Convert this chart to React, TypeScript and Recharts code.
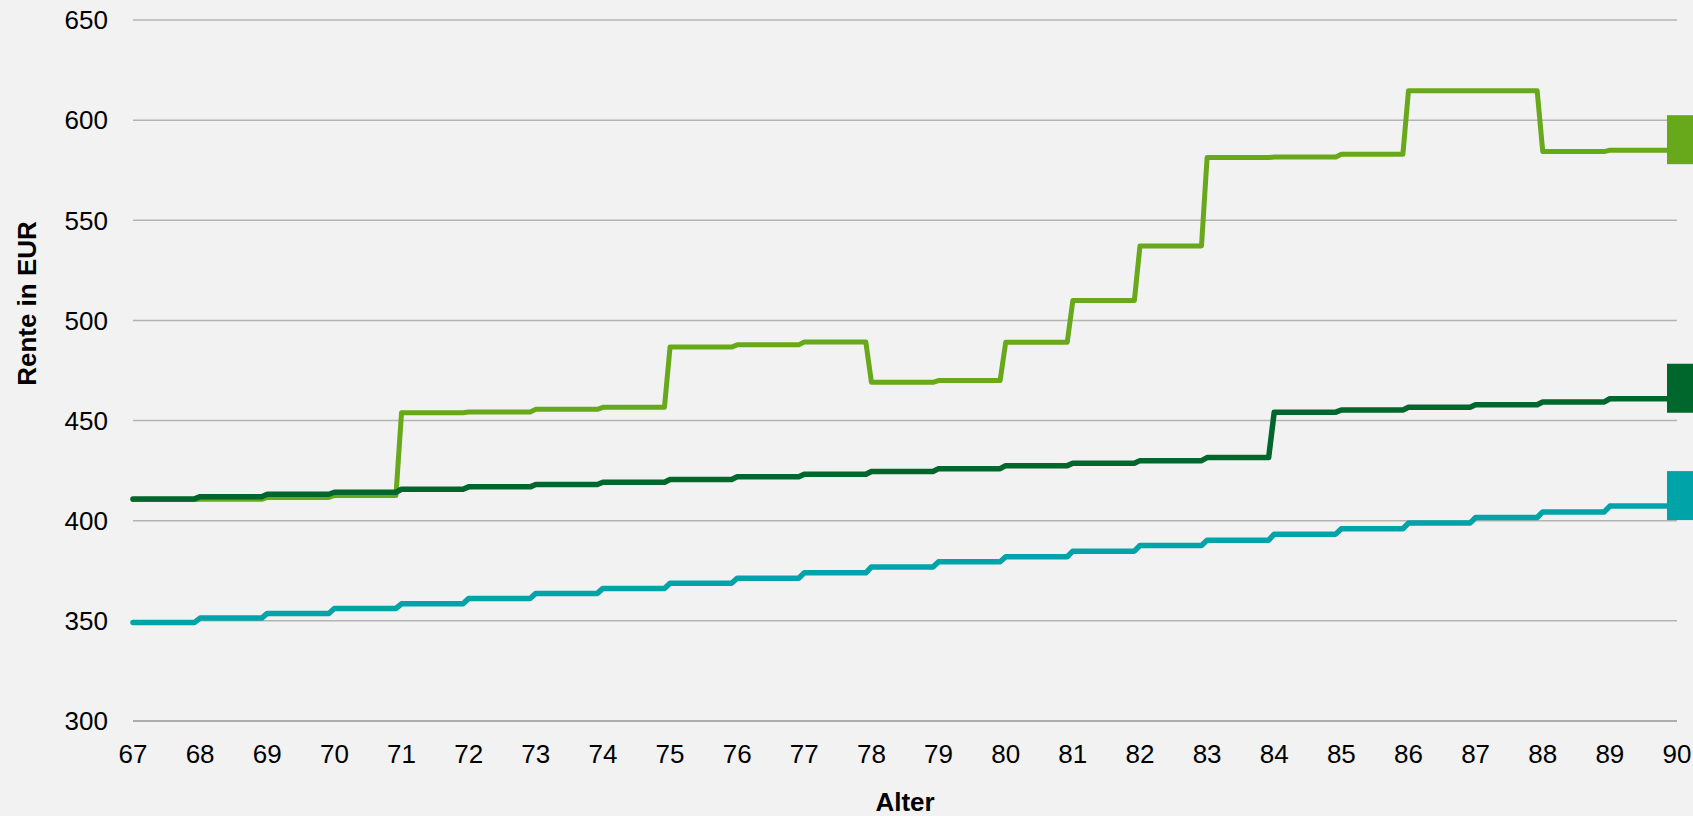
import React from 'react';
import { LineChart, Line, XAxis, YAxis, CartesianGrid } from 'recharts';

// ages on the x axis (pension adjusted once a year, paid monthly)
const AGE_TICKS = [67, 68, 69, 70, 71, 72, 73, 74, 75, 76, 77, 78, 79, 80, 81, 82, 83, 84, 85, 86, 87, 88, 89, 90];
const RENTE_TICKS = [300, 350, 400, 450, 500, 550, 600, 650];

// yearly pension level, one value per age 67..89
const rente_teal = [
  349.2, 351.4, 353.7, 356.2, 358.5, 361.2, 363.7, 366.2, 368.8, 371.3, 374.0, 376.9,
  379.5, 382.0, 384.8, 387.6, 390.3, 393.3, 396.0, 398.8, 401.6, 404.4, 407.3,
];
const rente_dunkel = [
  410.9, 412.0, 413.2, 414.2, 415.7, 416.9, 418.1, 419.2, 420.6, 421.9, 423.2, 424.6,
  426.0, 427.5, 428.7, 430.0, 431.5, 454.2, 455.3, 456.6, 457.9, 459.3, 460.9,
];
const rente_hell = [
  410.6, 410.7, 411.6, 412.6, 453.9, 454.3, 455.6, 456.6, 486.7, 487.8, 489.2, 469.1,
  470.0, 489.1, 509.9, 537.2, 581.3, 581.6, 583.0, 614.7, 614.7, 584.3, 585.0,
];

const COLORS = { hell: '#68a81b', dunkel: '#00672c', teal: '#00a4a8' };
const FONT = '"Liberation Sans", Arial, sans-serif';

// monthly table: every month of a year carries that year's value
const data: { age: number; teal: number; dunkel: number; hell: number }[] = [];
rente_teal.forEach((_v, y) => {
  for (let m = 0; m < 12; m++) {
    data.push({
      age: AGE_TICKS[0] + y + m / 12,
      teal: rente_teal[y],
      dunkel: rente_dunkel[y],
      hell: rente_hell[y],
    });
  }
});
const last = rente_teal.length - 1;
data.push({
  age: AGE_TICKS[AGE_TICKS.length - 1],
  teal: rente_teal[last],
  dunkel: rente_dunkel[last],
  hell: rente_hell[last],
});

const endMarker = (color: string) => (props: any) => {
  const { cx, cy, index } = props;
  if (index !== data.length - 1) return <g key={`d-${index}`} />;
  return <rect key={`d-${index}`} x={cx - 10} y={cy - 35} width={49} height={49} fill={color} />;
};

const tickStyle = { fontSize: 26, fill: '#000', fontFamily: FONT };

export default function App() {
  return (
    <div style={{ position: 'absolute', left: 0, top: 0, width: 1693, height: 816, background: '#f2f2f2' }}>
      <LineChart width={1693} height={816} data={data} margin={{ top: 20, right: 16, bottom: 0, left: 0 }}>
        <CartesianGrid vertical={false} stroke="#b4b4b4" strokeWidth={1.5} />
        <XAxis
          dataKey="age"
          type="number"
          domain={[67, 90]}
          ticks={AGE_TICKS}
          interval={0}
          height={95}
          tickLine={false}
          tickSize={0}
          tickMargin={24}
          axisLine={{ stroke: '#a6a6a6', strokeWidth: 1.5 }}
          tick={tickStyle}
          label={{
            content: (p: any) => {
              const vb = p.viewBox;
              return (
                <text x={vb.x + vb.width / 2} y={vb.y + 90} textAnchor="middle" fontFamily={FONT} fontSize={26} fontWeight="bold" fill="#000">
                  Alter
                </text>
              );
            },
          }}
        />
        <YAxis
          type="number"
          domain={[300, 650]}
          ticks={RENTE_TICKS}
          interval={0}
          width={133}
          axisLine={false}
          tickLine={false}
          tickSize={0}
          tickMargin={25}
          tick={tickStyle}
          label={{
            content: (p: any) => {
              const vb = p.viewBox;
              const x = vb.x + 27;
              const y = vb.y + vb.height / 2 - 67;
              return (
                <text x={x} y={y} transform={`rotate(-90 ${x} ${y})`} textAnchor="middle" dominantBaseline="central" fontFamily={FONT} fontSize={26} fontWeight="bold" fill="#000">
                  Rente in EUR
                </text>
              );
            },
          }}
        />
        <Line dataKey="teal" stroke={COLORS.teal} strokeWidth={5.5} strokeLinecap="round" strokeLinejoin="round" dot={endMarker(COLORS.teal)} activeDot={false} isAnimationActive={false} />
        <Line dataKey="hell" stroke={COLORS.hell} strokeWidth={5} strokeLinecap="round" strokeLinejoin="round" dot={endMarker(COLORS.hell)} activeDot={false} isAnimationActive={false} />
        <Line dataKey="dunkel" stroke={COLORS.dunkel} strokeWidth={5.5} strokeLinecap="round" strokeLinejoin="round" dot={endMarker(COLORS.dunkel)} activeDot={false} isAnimationActive={false} />
      </LineChart>
    </div>
  );
}
